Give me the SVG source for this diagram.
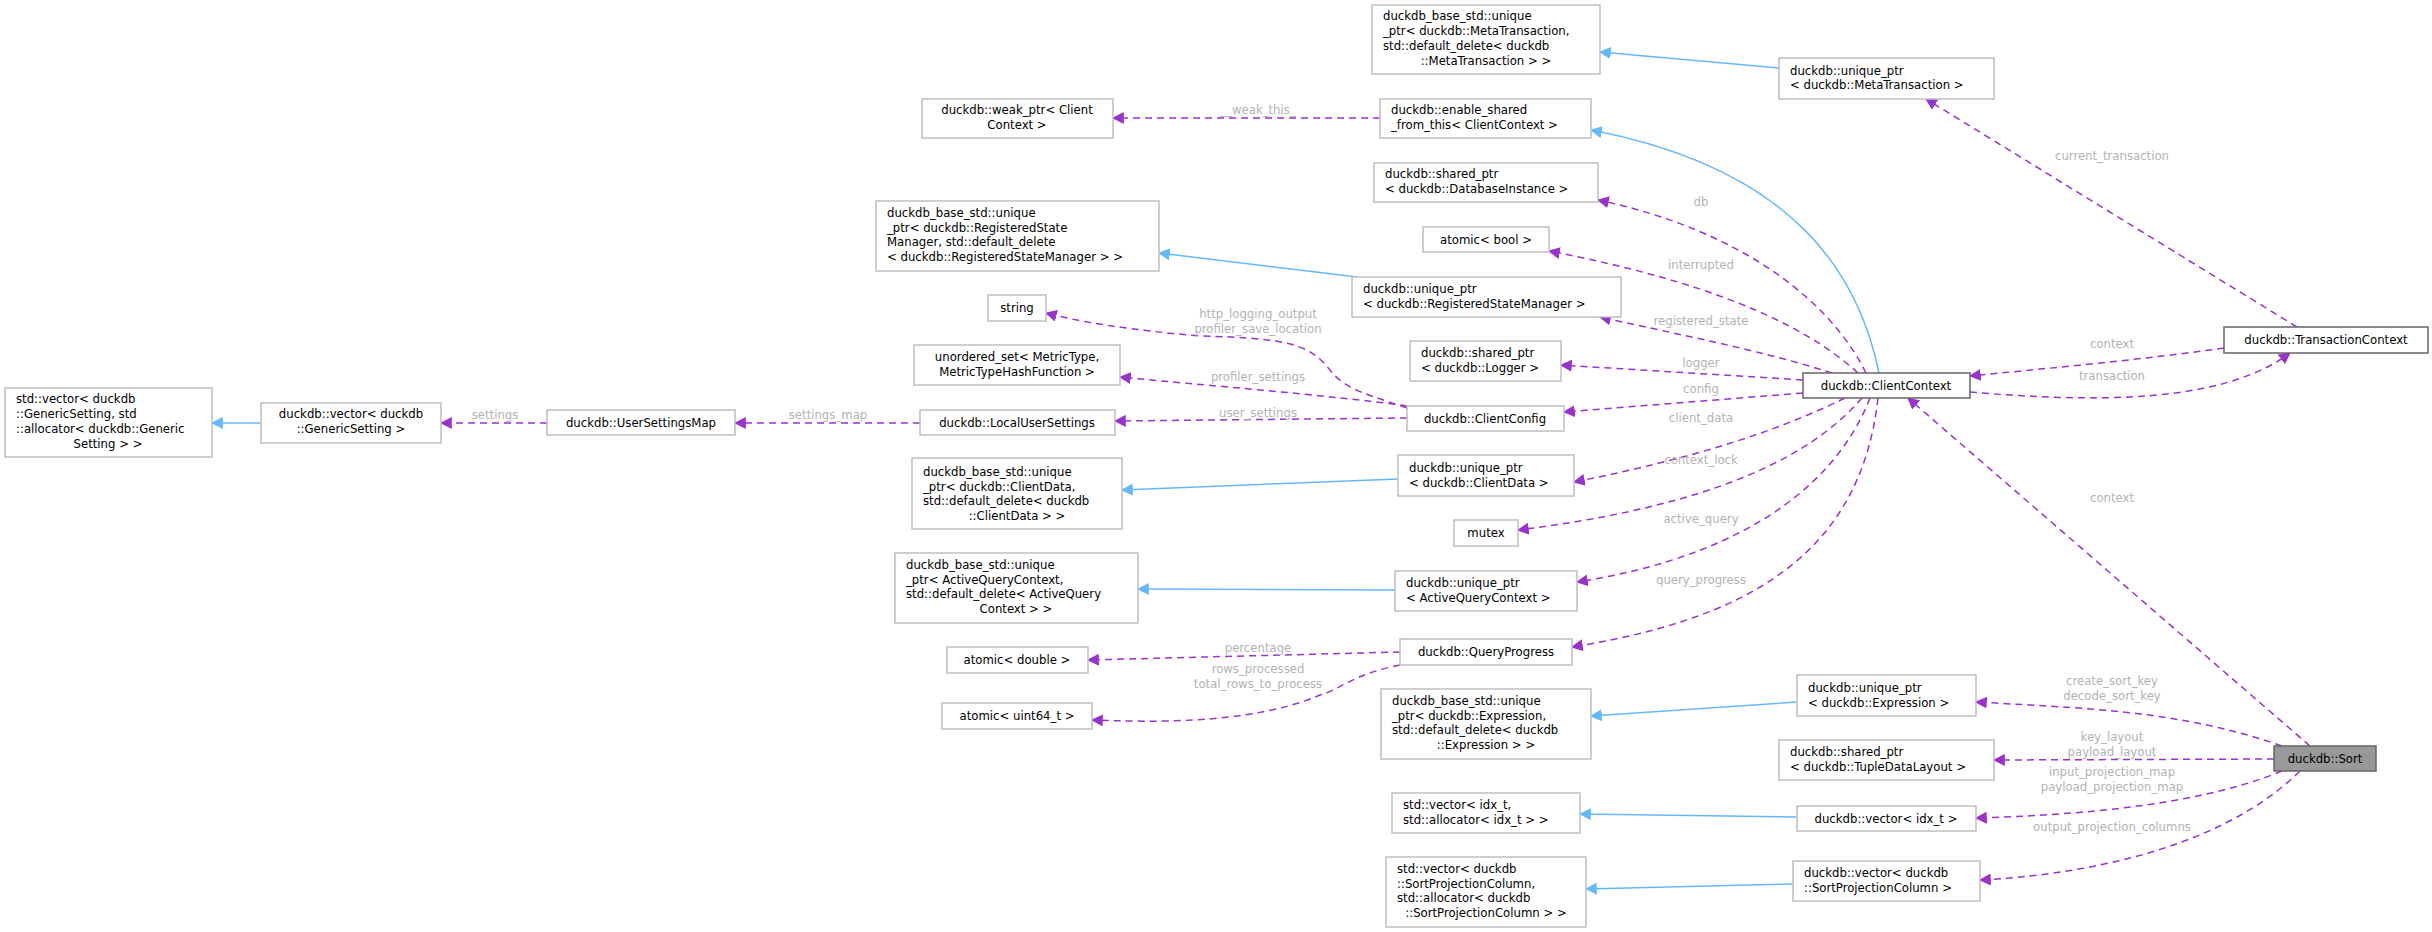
<svg xmlns="http://www.w3.org/2000/svg" width="2432" height="932" viewBox="0 0 2432 932">
<style>
.n rect{fill:#fff;stroke:#bfbfbf;stroke-width:1.5}
.n text,.t{font-family:"DejaVu Sans Condensed","DejaVu Sans",sans-serif;font-size:13px;fill:#000}
.c{text-anchor:middle}
.lb{font-family:"DejaVu Sans Condensed","DejaVu Sans",sans-serif;font-size:13px;fill:#b3b3b3;text-anchor:middle}
.p{fill:none;stroke:#9a32cd;stroke-width:1.5;stroke-dasharray:7,5;marker-end:url(#ap)}
.b{fill:none;stroke:#63b8ff;stroke-width:1.5;marker-end:url(#ab)}
</style>
<defs>
<marker id="ap" viewBox="0 0 10 10" refX="9" refY="5" markerWidth="12" markerHeight="12" markerUnits="userSpaceOnUse" orient="auto"><path d="M0,0L10,5L0,10z" fill="#9a32cd"/></marker>
<marker id="ab" viewBox="0 0 10 10" refX="9" refY="5" markerWidth="12" markerHeight="12" markerUnits="userSpaceOnUse" orient="auto"><path d="M0,0L10,5L0,10z" fill="#63b8ff"/></marker>
</defs>
<rect width="2432" height="932" fill="#fff"/>
<g id="edges">
<path class="b" d="M261,423L212,423"/>
<path class="b" d="M1779,68L1600,52"/>
<path class="b" d="M1879,373C1860,280 1800,170 1591,130"/>
<path class="b" d="M1357,277L1159,253"/>
<path class="b" d="M1398,479L1122,490"/>
<path class="b" d="M1395,590L1138,589"/>
<path class="b" d="M1797,702L1591,716"/>
<path class="b" d="M1797,817L1580,814"/>
<path class="b" d="M1793,884L1586,889"/>
<path class="p" d="M547,423L441,423"/>
<path class="p" d="M920,423L735,423"/>
<path class="p" d="M1380,118L1113,118"/>
<path class="p" d="M1407,408C1370,395 1345,390 1330,370C1310,345 1290,338 1200,336C1130,330 1080,322 1046,313"/>
<path class="p" d="M1407,406C1330,395 1200,385 1120,377"/>
<path class="p" d="M1407,418L1115,421"/>
<path class="p" d="M1803,393L1564,412"/>
<path class="p" d="M1803,380L1561,365"/>
<path class="p" d="M1832,373C1760,350 1680,335 1600,317"/>
<path class="p" d="M1858,373C1800,320 1700,280 1549,251"/>
<path class="p" d="M1866,373C1830,300 1740,230 1598,200"/>
<path class="p" d="M1845,398C1760,440 1660,465 1574,482"/>
<path class="p" d="M1862,398C1800,470 1680,510 1518,530"/>
<path class="p" d="M1870,398C1830,500 1720,560 1577,582"/>
<path class="p" d="M1878,398C1860,560 1740,620 1572,647"/>
<path class="p" d="M1400,652L1088,660"/>
<path class="p" d="M1400,665C1350,675 1340,690 1320,695C1250,725 1150,722 1092,720"/>
<path class="p" d="M2224,348C2140,360 2050,368 1970,376"/>
<path class="p" d="M1970,392C2090,402 2220,405 2290,353"/>
<path class="p" d="M2297,327L1926,99"/>
<path class="p" d="M2310,746L1908,398"/>
<path class="p" d="M2282,746C2180,710 2080,708 1976,702"/>
<path class="p" d="M2274,759L1994,760"/>
<path class="p" d="M2282,771C2200,805 2080,815 1976,818"/>
<path class="p" d="M2300,771C2220,850 2080,875 1980,880"/>
<text class="lb" x="495" y="419">settings</text>
<text class="lb" x="828" y="419">settings_map</text>
<text class="lb" x="1258" y="114">__weak_this_</text>
<text class="lb" x="1258" y="318">http_logging_output</text>
<text class="lb" x="1258" y="333">profiler_save_location</text>
<text class="lb" x="1258" y="381">profiler_settings</text>
<text class="lb" x="1258" y="417">user_settings</text>
<text class="lb" x="1701" y="206">db</text>
<text class="lb" x="1701" y="269">interrupted</text>
<text class="lb" x="1701" y="325">registered_state</text>
<text class="lb" x="1701" y="367">logger</text>
<text class="lb" x="1701" y="393">config</text>
<text class="lb" x="1701" y="422">client_data</text>
<text class="lb" x="1701" y="464">context_lock</text>
<text class="lb" x="1701" y="523">active_query</text>
<text class="lb" x="1701" y="584">query_progress</text>
<text class="lb" x="1258" y="652">percentage</text>
<text class="lb" x="1258" y="673">rows_processed</text>
<text class="lb" x="1258" y="688">total_rows_to_process</text>
<text class="lb" x="2112" y="160">current_transaction</text>
<text class="lb" x="2112" y="348">context</text>
<text class="lb" x="2112" y="380">transaction</text>
<text class="lb" x="2112" y="502">context</text>
<text class="lb" x="2112" y="685">create_sort_key</text>
<text class="lb" x="2112" y="700">decode_sort_key</text>
<text class="lb" x="2112" y="741">key_layout</text>
<text class="lb" x="2112" y="756">payload_layout</text>
<text class="lb" x="2112" y="776">input_projection_map</text>
<text class="lb" x="2112" y="791">payload_projection_map</text>
<text class="lb" x="2112" y="831">output_projection_columns</text>
</g>
<g id="n_stdvec_gs" class="n"><rect x="5" y="388" width="207" height="69"/><text x="16" y="403">std::vector&lt; duckdb</text><text x="16" y="418">::GenericSetting, std</text><text x="16" y="433">::allocator&lt; duckdb::Generic</text><text class="c" x="108" y="448">Setting &gt; &gt;</text></g>
<g id="n_vec_gs" class="n"><rect x="261" y="403" width="180" height="40"/><text class="c" x="351" y="418">duckdb::vector&lt; duckdb</text><text class="c" x="351" y="433">::GenericSetting &gt;</text></g>
<g id="n_usm" class="n"><rect x="547" y="410" width="188" height="25"/><text class="c" x="641" y="427">duckdb::UserSettingsMap</text></g>
<g id="n_lus" class="n"><rect x="920" y="410" width="195" height="25"/><text class="c" x="1017" y="427">duckdb::LocalUserSettings</text></g>
<g id="n_meta_base" class="n"><rect x="1372" y="5" width="228" height="69"/><text x="1383" y="20">duckdb_base_std::unique</text><text x="1383" y="35">_ptr&lt; duckdb::MetaTransaction,</text><text x="1383" y="50"> std::default_delete&lt; duckdb</text><text class="c" x="1486" y="65">::MetaTransaction &gt; &gt;</text></g>
<g id="n_weak" class="n"><rect x="922" y="99" width="191" height="39"/><text class="c" x="1017" y="114">duckdb::weak_ptr&lt; Client</text><text class="c" x="1017" y="129">Context &gt;</text></g>
<g id="n_esft" class="n"><rect x="1380" y="99" width="211" height="39"/><text x="1391" y="114">duckdb::enable_shared</text><text x="1391" y="129">_from_this&lt; ClientContext &gt;</text></g>
<g id="n_dbi" class="n"><rect x="1374" y="163" width="224" height="39"/><text x="1385" y="178">duckdb::shared_ptr</text><text x="1385" y="193">&lt; duckdb::DatabaseInstance &gt;</text></g>
<g id="n_rsm_base" class="n"><rect x="876" y="201" width="283" height="70"/><text x="887" y="217">duckdb_base_std::unique</text><text x="887" y="232">_ptr&lt; duckdb::RegisteredState</text><text x="887" y="246">Manager, std::default_delete</text><text x="887" y="261">&lt; duckdb::RegisteredStateManager &gt; &gt;</text></g>
<g id="n_abool" class="n"><rect x="1423" y="227" width="126" height="25"/><text class="c" x="1486" y="244">atomic&lt; bool &gt;</text></g>
<g id="n_rsm" class="n"><rect x="1352" y="277" width="269" height="40"/><text x="1363" y="293">duckdb::unique_ptr</text><text x="1363" y="308">&lt; duckdb::RegisteredStateManager &gt;</text></g>
<g id="n_string" class="n"><rect x="988" y="295" width="58" height="26"/><text class="c" x="1017" y="312">string</text></g>
<g id="n_uset" class="n"><rect x="914" y="345" width="206" height="40"/><text class="c" x="1017" y="361">unordered_set&lt; MetricType,</text><text class="c" x="1017" y="376">MetricTypeHashFunction &gt;</text></g>
<g id="n_cconfig" class="n"><rect x="1407" y="406" width="157" height="25"/><text class="c" x="1485" y="423">duckdb::ClientConfig</text></g>
<g id="n_logger" class="n"><rect x="1410" y="341" width="151" height="40"/><text x="1421" y="357">duckdb::shared_ptr</text><text x="1421" y="372">&lt; duckdb::Logger &gt;</text></g>
<g id="n_meta" class="n"><rect x="1779" y="58" width="215" height="41"/><text x="1790" y="75">duckdb::unique_ptr</text><text x="1790" y="89">&lt; duckdb::MetaTransaction &gt;</text></g>
<g id="n_cctx" class="n"><rect x="1803" y="373" width="167" height="25" style="stroke:#666"/><text class="c" x="1886" y="390">duckdb::ClientContext</text></g>
<g id="n_tctx" class="n"><rect x="2224" y="327" width="204" height="26" style="stroke:#666"/><text class="c" x="2326" y="344">duckdb::TransactionContext</text></g>
<g id="n_cd_base" class="n"><rect x="912" y="458" width="210" height="71"/><text x="923" y="476">duckdb_base_std::unique</text><text x="923" y="491">_ptr&lt; duckdb::ClientData,</text><text x="923" y="505"> std::default_delete&lt; duckdb</text><text class="c" x="1017" y="520">::ClientData &gt; &gt;</text></g>
<g id="n_cd" class="n"><rect x="1398" y="455" width="176" height="41"/><text x="1409" y="472">duckdb::unique_ptr</text><text x="1409" y="487">&lt; duckdb::ClientData &gt;</text></g>
<g id="n_mutex" class="n"><rect x="1454" y="520" width="64" height="26"/><text class="c" x="1486" y="537">mutex</text></g>
<g id="n_aqc_base" class="n"><rect x="895" y="553" width="243" height="70"/><text x="906" y="569">duckdb_base_std::unique</text><text x="906" y="584">_ptr&lt; ActiveQueryContext,</text><text x="906" y="598"> std::default_delete&lt; ActiveQuery</text><text class="c" x="1016" y="613">Context &gt; &gt;</text></g>
<g id="n_aqc" class="n"><rect x="1395" y="571" width="182" height="40"/><text x="1406" y="587">duckdb::unique_ptr</text><text x="1406" y="602">&lt; ActiveQueryContext &gt;</text></g>
<g id="n_adouble" class="n"><rect x="947" y="647" width="141" height="26"/><text class="c" x="1017" y="664">atomic&lt; double &gt;</text></g>
<g id="n_qp" class="n"><rect x="1400" y="639" width="172" height="26"/><text class="c" x="1486" y="656">duckdb::QueryProgress</text></g>
<g id="n_auint" class="n"><rect x="942" y="703" width="150" height="26"/><text class="c" x="1017" y="720">atomic&lt; uint64_t &gt;</text></g>
<g id="n_expr_base" class="n"><rect x="1381" y="689" width="210" height="70"/><text x="1392" y="705">duckdb_base_std::unique</text><text x="1392" y="720">_ptr&lt; duckdb::Expression,</text><text x="1392" y="734"> std::default_delete&lt; duckdb</text><text class="c" x="1486" y="749">::Expression &gt; &gt;</text></g>
<g id="n_stdvec_idx" class="n"><rect x="1392" y="793" width="188" height="40"/><text x="1403" y="809">std::vector&lt; idx_t,</text><text x="1403" y="824"> std::allocator&lt; idx_t &gt; &gt;</text></g>
<g id="n_spc_base" class="n"><rect x="1386" y="857" width="200" height="70"/><text x="1397" y="873">std::vector&lt; duckdb</text><text x="1397" y="888">::SortProjectionColumn,</text><text x="1397" y="902"> std::allocator&lt; duckdb</text><text class="c" x="1486" y="917">::SortProjectionColumn &gt; &gt;</text></g>
<g id="n_expr" class="n"><rect x="1797" y="675" width="179" height="41"/><text x="1808" y="692">duckdb::unique_ptr</text><text x="1808" y="707">&lt; duckdb::Expression &gt;</text></g>
<g id="n_tdl" class="n"><rect x="1779" y="740" width="215" height="40"/><text x="1790" y="756">duckdb::shared_ptr</text><text x="1790" y="771">&lt; duckdb::TupleDataLayout &gt;</text></g>
<g id="n_vidx" class="n"><rect x="1797" y="806" width="179" height="25"/><text class="c" x="1886" y="823">duckdb::vector&lt; idx_t &gt;</text></g>
<g id="n_vspc" class="n"><rect x="1793" y="861" width="187" height="40"/><text x="1804" y="877">duckdb::vector&lt; duckdb</text><text x="1804" y="892">::SortProjectionColumn &gt;</text></g>
<g id="n_sort" class="n"><rect x="2274" y="746" width="102" height="25" style="fill:#999;stroke:#666"/><text class="c" x="2325" y="763">duckdb::Sort</text></g>
</svg>
